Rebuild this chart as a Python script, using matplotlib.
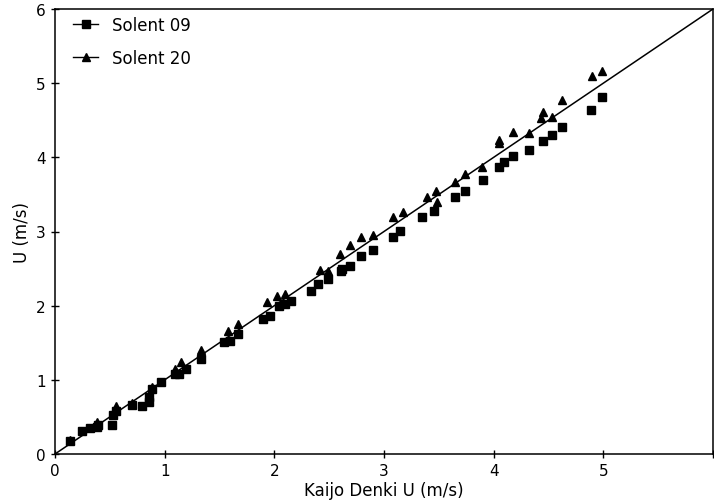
import matplotlib
matplotlib.use('Agg')
import matplotlib.pyplot as plt
from matplotlib.lines import Line2D

# Solent 09 (squares)
s09_x = [0.14, 0.25, 0.32, 0.38, 0.39, 0.52, 0.53, 0.56, 0.70, 0.79, 0.86, 0.86, 0.88, 0.97,
         1.09, 1.13, 1.19, 1.33, 1.54, 1.60, 1.67, 1.90, 1.96, 2.04, 2.10, 2.15, 2.33, 2.40,
         2.49, 2.61, 2.69, 2.62, 2.79, 2.90, 3.08, 3.15, 3.35, 3.46, 3.65, 3.74, 3.90, 4.05,
         4.09, 4.18, 4.32, 4.45, 4.53, 4.62, 4.89, 4.99]
s09_y = [0.17, 0.31, 0.35, 0.37, 0.39, 0.39, 0.53, 0.58, 0.66, 0.65, 0.70, 0.77, 0.88, 0.97,
         1.08, 1.08, 1.15, 1.28, 1.51, 1.53, 1.62, 1.82, 1.86, 2.00, 2.02, 2.06, 2.20, 2.29,
         2.36, 2.47, 2.53, 2.49, 2.67, 2.75, 2.92, 3.01, 3.19, 3.28, 3.46, 3.55, 3.69, 3.87,
         3.94, 4.02, 4.10, 4.22, 4.30, 4.41, 4.64, 4.82]

# Solent 20 (triangles)
s20_x = [0.14, 0.38, 0.56, 0.70, 0.88, 1.09, 1.15, 1.33, 1.58, 1.67, 1.93, 2.02, 2.10, 2.42,
         2.49, 2.60, 2.69, 2.79, 2.90, 3.08, 3.17, 3.39, 3.47, 3.48, 3.65, 3.74, 3.89, 4.05,
         4.05, 4.18, 4.32, 4.43, 4.45, 4.53, 4.62, 4.90, 4.99]
s20_y = [0.19, 0.43, 0.65, 0.69, 0.91, 1.15, 1.24, 1.40, 1.66, 1.75, 2.05, 2.13, 2.16, 2.48,
         2.47, 2.70, 2.82, 2.92, 2.95, 3.19, 3.26, 3.46, 3.55, 3.40, 3.67, 3.77, 3.87, 4.20,
         4.24, 4.34, 4.33, 4.53, 4.61, 4.55, 4.77, 5.09, 5.16]

ticks = [0, 1, 2, 3, 4, 5, 6]
tick_labels = ['0', '1', '2', '3', '4', '5', '']

plt.rcParams['font.family'] = ['DejaVu Sans']
fig = plt.figure(figsize=(7.14, 5.02), dpi=100)
ax = fig.add_axes([55 / 714, 47 / 502, 658 / 714, 445 / 502])

ax.plot([0, 6], [0, 6], color='black', linewidth=1.1)
ax.plot(s09_x, s09_y, 's', color='black', markersize=6, linestyle='none')
ax.plot(s20_x, s20_y, '^', color='black', markersize=6, linestyle='none')

ax.set_xlim(0, 6)
ax.set_ylim(0, 6)
ax.set_xticks(ticks)
ax.set_xticklabels(tick_labels)
ax.set_yticks(ticks)
ax.tick_params(direction='inout', length=6, width=1, labelsize=11)
for sp in ax.spines.values():
    sp.set_linewidth(1.1)

ax.set_xlabel('Kaijo Denki U (m/s)', fontsize=12, labelpad=2)
ax.set_ylabel('U (m/s)', fontsize=12, labelpad=4)

# legend handles drawn with a short line through the marker
handles = [Line2D([], [], color='black', marker='s', markersize=6, linewidth=1),
           Line2D([], [], color='black', marker='^', markersize=6, linewidth=1)]
ax.legend(handles, ['Solent 09', 'Solent 20'], loc='upper left', frameon=False,
          fontsize=12, handlelength=1.5, borderaxespad=0.3, labelspacing=0.9,
          bbox_to_anchor=(0.01, 1.01))

fig.savefig('out.png', dpi=100)
